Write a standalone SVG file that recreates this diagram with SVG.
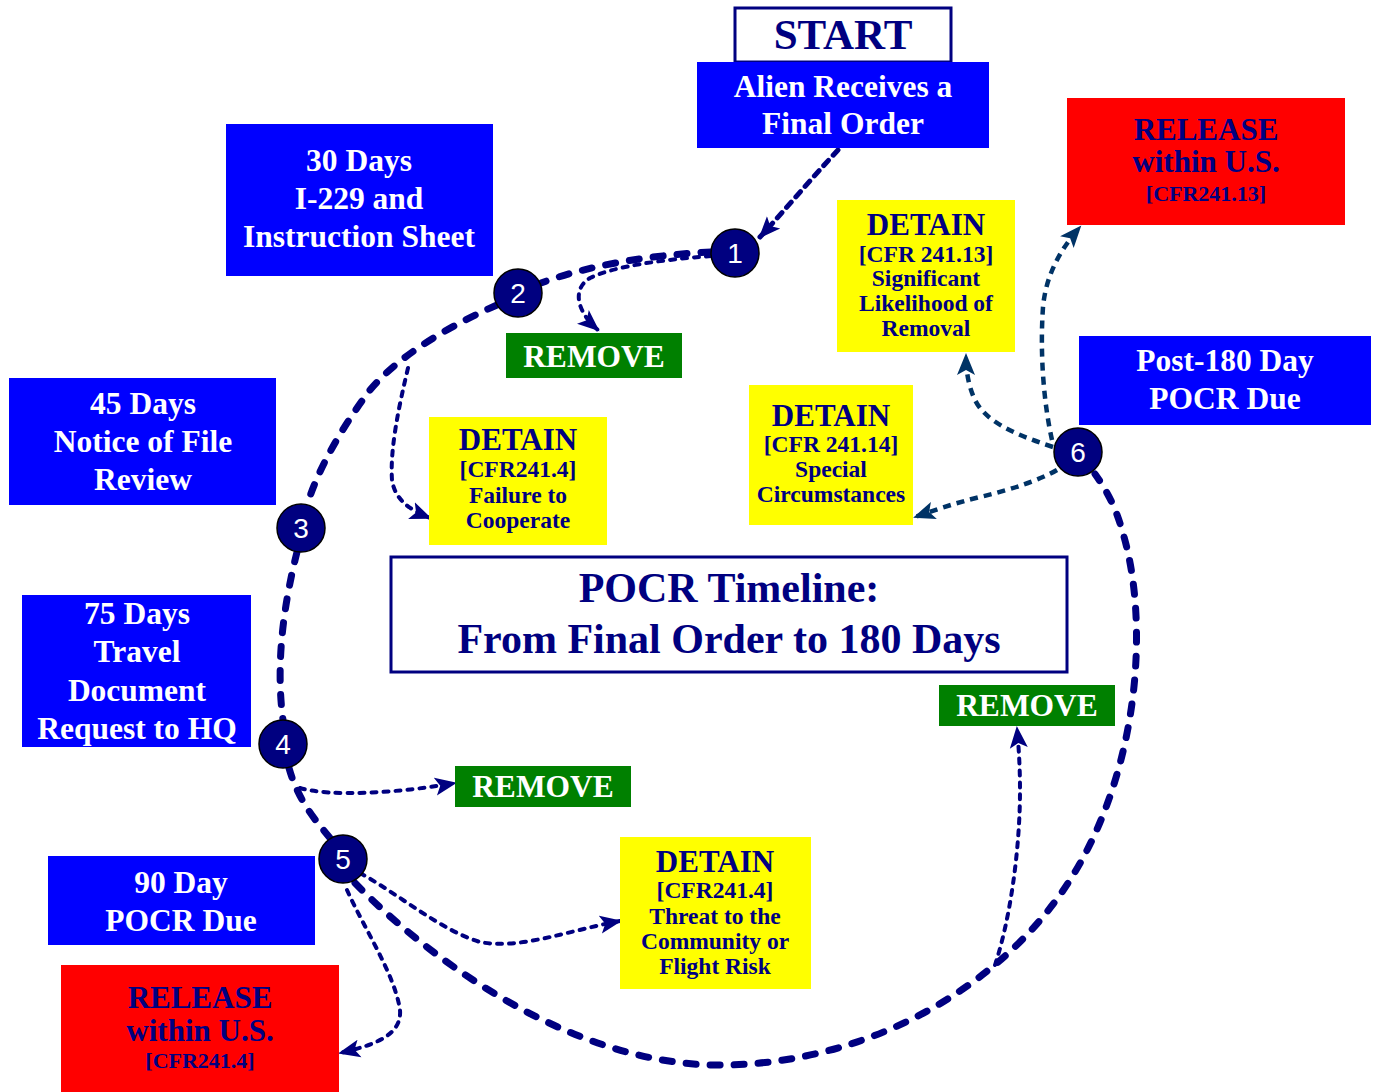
<svg xmlns="http://www.w3.org/2000/svg" width="1379" height="1092" viewBox="0 0 1379 1092">
<defs>
<marker id="ah" markerUnits="userSpaceOnUse" markerWidth="24" markerHeight="20" refX="20" refY="10" orient="auto"><path d="M0,1 L22,10 L0,19 L5,10 Z" fill="#000080"/></marker>
<marker id="ah6" markerUnits="userSpaceOnUse" markerWidth="24" markerHeight="20" refX="20" refY="10" orient="auto"><path d="M0,1 L22,10 L0,19 L5,10 Z" fill="#003366"/></marker>
</defs>
<style>
.blue{fill:#0000FF}
.red{fill:#FF0000}
.yel{fill:#FFFF00}
.grn{fill:#008000}
.tw{font-family:"Liberation Serif","Times New Roman",serif;font-weight:bold;fill:#FFFFFF;text-anchor:middle;font-size:31.5px}
.tn{font-family:"Liberation Serif","Times New Roman",serif;font-weight:bold;fill:#000080;text-anchor:middle}
.big{font-size:31px}
.sm{font-size:23.5px}
.num{font-family:"Liberation Sans",Arial,sans-serif;fill:#FFFFFF;text-anchor:middle;font-size:28px}
.circ{fill:#000080;stroke:#000000;stroke-width:1.5}
.main{fill:none;stroke:#000080;stroke-width:7;stroke-dasharray:10 14;stroke-linecap:round}
.dot{fill:none;stroke:#000080;stroke-width:4;stroke-dasharray:5 7;stroke-linecap:round}
.dot6{fill:none;stroke:#003366;stroke-width:4.5;stroke-dasharray:8 6}
</style>

<g id="connectors">
<path class="main" d="M711,252 C650,255 590,265 541,283"/>
<path class="main" d="M497,305 C440,330 395,360 370,390 C340,430 318,470 307,505"/>
<path class="main" d="M297,552 C285,600 275,660 283,720"/>
<path class="main" d="M289,768 C298,800 315,820 330,838"/>
<path class="main" d="M355,883 C420,950 560,1060 710,1065 C860,1068 1000,990 1070,880 C1140,770 1150,620 1122,530 C1115,505 1105,488 1095,474"/>
<path class="dot" d="M838,150 C810,180 785,210 760,237" marker-end="url(#ah)" style="stroke-width:5;stroke-dasharray:7 7"/>
<path class="dot" d="M711,256 C660,260 615,266 590,278 C573,288 575,310 598,330" marker-end="url(#ah)"/>
<path class="dot" d="M408,368 C398,410 390,450 392,480 C395,500 410,510 430,518" marker-end="url(#ah)"/>
<path class="dot" d="M300,788 C330,797 400,793 455,783" marker-end="url(#ah)"/>
<path class="dot" d="M360,873 C400,895 440,930 480,942 C520,950 570,930 620,921" marker-end="url(#ah)"/>
<path class="dot" d="M347,890 C365,930 395,975 400,1010 C402,1035 375,1045 340,1053" marker-end="url(#ah)"/>
<path class="dot" d="M995,965 C1010,920 1020,850 1020,790 C1020,770 1019,750 1017,728" marker-end="url(#ah)"/>
<path class="dot6" d="M1053,447 C1010,433 985,420 975,400 C968,385 966,370 966,355" marker-end="url(#ah6)"/>
<path class="dot6" d="M1052,440 C1043,400 1040,350 1043,307 C1046,275 1060,250 1080,227" marker-end="url(#ah6)"/>
<path class="dot6" d="M1057,470 C1040,480 1010,490 980,497 C955,503 935,510 915,517" marker-end="url(#ah6)"/>
</g>

<g id="start">
<rect x="735" y="8" width="216" height="54" fill="#FFFFFF" stroke="#000080" stroke-width="3"/>
<text class="tn" x="843" y="49" style="font-size:43px">START</text>
</g>
<g id="alien">
<rect class="blue" x="697" y="62" width="292" height="86"/>
<text class="tw" x="843" y="97">Alien Receives a</text>
<text class="tw" x="843" y="134">Final Order</text>
</g>
<g id="day30">
<rect class="blue" x="226" y="124" width="267" height="152"/>
<text class="tw" x="359" y="171">30 Days</text>
<text class="tw" x="359" y="209">I-229 and</text>
<text class="tw" x="359" y="247">Instruction Sheet</text>
</g>
<g id="release-top">
<rect class="red" x="1067" y="98" width="278" height="127"/>
<text class="tn big" x="1206" y="140">RELEASE</text>
<text class="tn big" x="1206" y="172">within U.S.</text>
<text class="tn" x="1206" y="201" style="font-size:22px">[CFR241.13]</text>
</g>
<g id="detain-1313">
<rect class="yel" x="837" y="200" width="178" height="152"/>
<text class="tn big" x="926" y="235">DETAIN</text>
<text class="tn sm" x="926" y="262">[CFR 241.13]</text>
<text class="tn sm" x="926" y="286">Significant</text>
<text class="tn sm" x="926" y="311">Likelihood of</text>
<text class="tn sm" x="926" y="336">Removal</text>
</g>
<g id="post180">
<rect class="blue" x="1079" y="336" width="292" height="89"/>
<text class="tw" x="1225" y="371">Post-180 Day</text>
<text class="tw" x="1225" y="409">POCR Due</text>
</g>
<g id="remove-top">
<rect class="grn" x="506" y="333" width="176" height="45"/>
<text class="tw" x="594" y="367">REMOVE</text>
</g>
<g id="day45">
<rect class="blue" x="9" y="378" width="267" height="127"/>
<text class="tw" x="143" y="414">45 Days</text>
<text class="tw" x="143" y="452">Notice of File</text>
<text class="tw" x="143" y="490">Review</text>
</g>
<g id="detain-failure">
<rect class="yel" x="429" y="417" width="178" height="128"/>
<text class="tn big" x="518" y="450">DETAIN</text>
<text class="tn sm" x="518" y="477">[CFR241.4]</text>
<text class="tn sm" x="518" y="503">Failure to</text>
<text class="tn sm" x="518" y="528">Cooperate</text>
</g>
<g id="detain-1314">
<rect class="yel" x="749" y="385" width="164" height="140"/>
<text class="tn big" x="831" y="426">DETAIN</text>
<text class="tn sm" x="831" y="452">[CFR 241.14]</text>
<text class="tn sm" x="831" y="477">Special</text>
<text class="tn sm" x="831" y="502">Circumstances</text>
</g>
<g id="title">
<rect x="391" y="557" width="676" height="115" fill="#FFFFFF" stroke="#000080" stroke-width="3"/>
<text class="tn" x="729" y="602" style="font-size:42px">POCR Timeline:</text>
<text class="tn" x="729" y="653" style="font-size:42px">From Final Order to 180 Days</text>
</g>
<g id="day75">
<rect class="blue" x="22" y="595" width="229" height="152"/>
<text class="tw" x="137" y="624">75 Days</text>
<text class="tw" x="137" y="662">Travel</text>
<text class="tw" x="137" y="701">Document</text>
<text class="tw" x="137" y="739">Request to HQ</text>
</g>
<g id="remove-right">
<rect class="grn" x="939" y="685" width="176" height="41"/>
<text class="tw" x="1027" y="716">REMOVE</text>
</g>
<g id="remove-mid">
<rect class="grn" x="455" y="766" width="176" height="41"/>
<text class="tw" x="543" y="797">REMOVE</text>
</g>
<g id="day90">
<rect class="blue" x="48" y="856" width="267" height="89"/>
<text class="tw" x="181" y="893">90 Day</text>
<text class="tw" x="181" y="931">POCR Due</text>
</g>
<g id="release-bottom">
<rect class="red" x="61" y="965" width="278" height="127"/>
<text class="tn big" x="200" y="1008">RELEASE</text>
<text class="tn big" x="200" y="1041">within U.S.</text>
<text class="tn" x="200" y="1068" style="font-size:22px">[CFR241.4]</text>
</g>
<g id="detain-threat">
<rect class="yel" x="620" y="837" width="191" height="152"/>
<text class="tn big" x="715" y="872">DETAIN</text>
<text class="tn sm" x="715" y="898">[CFR241.4]</text>
<text class="tn sm" x="715" y="924">Threat to the</text>
<text class="tn sm" x="715" y="949">Community or</text>
<text class="tn sm" x="715" y="974">Flight Risk</text>
</g>

<g id="n1"><circle class="circ" cx="735" cy="253" r="24"/><text class="num" x="735" y="263">1</text></g>
<g id="n2"><circle class="circ" cx="518" cy="293" r="24"/><text class="num" x="518" y="303">2</text></g>
<g id="n3"><circle class="circ" cx="301" cy="528" r="24"/><text class="num" x="301" y="538">3</text></g>
<g id="n4"><circle class="circ" cx="283" cy="744" r="24"/><text class="num" x="283" y="754">4</text></g>
<g id="n5"><circle class="circ" cx="343" cy="859" r="24"/><text class="num" x="343" y="869">5</text></g>
<g id="n6"><circle class="circ" cx="1078" cy="452" r="24"/><text class="num" x="1078" y="462">6</text></g>
</svg>
